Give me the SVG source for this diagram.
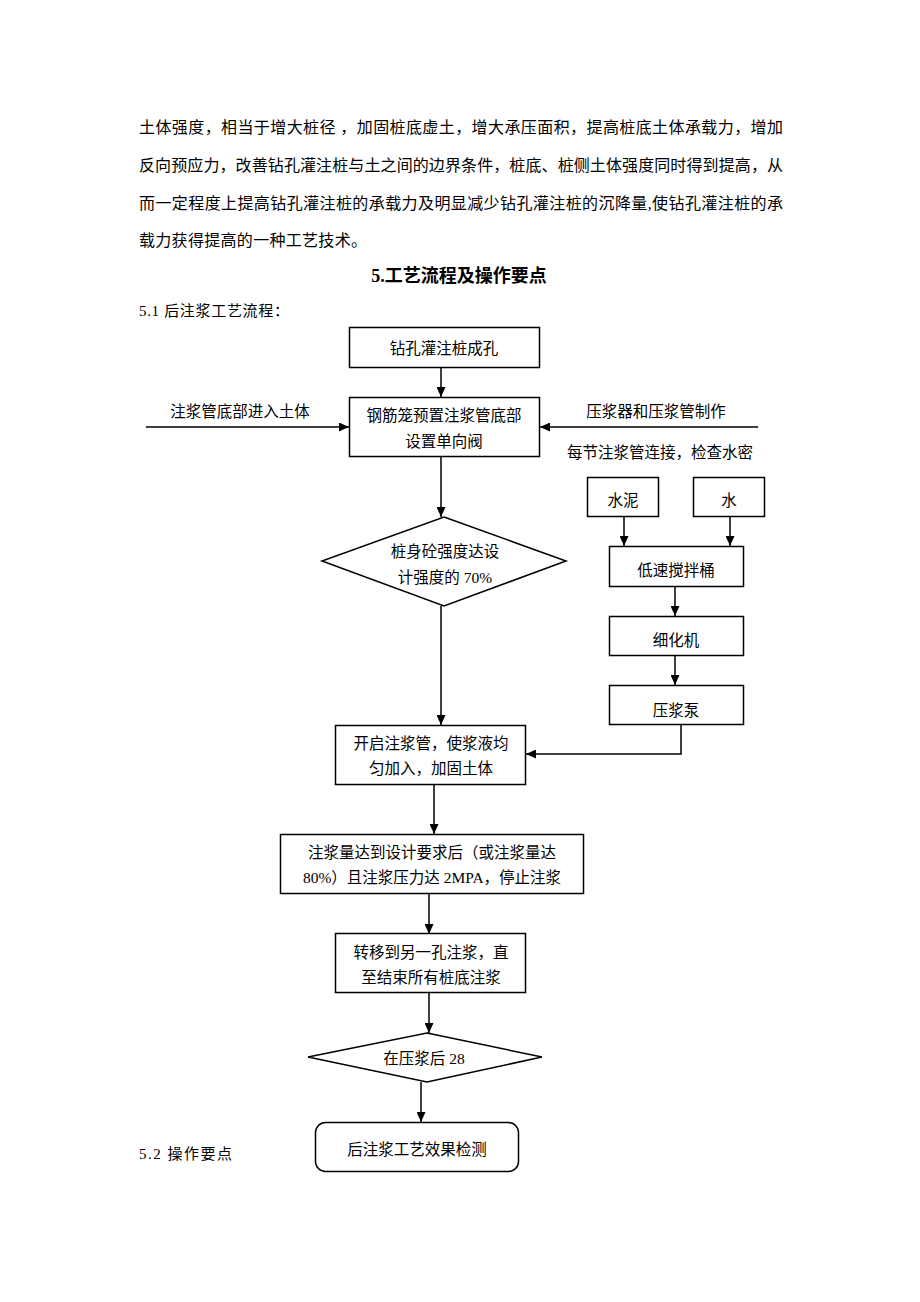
<svg xmlns="http://www.w3.org/2000/svg" width="920" height="1302" viewBox="0 0 920 1302">
<style>
text{font-family:"Liberation Serif","Noto Sans CJK SC",serif;fill:#000;dominant-baseline:central}
.body{font-size:16px}
.lbl{font-size:15.5px}
.c{text-anchor:middle}
.box{fill:#fff;stroke:#000;stroke-width:1.5}
.con{fill:none;stroke:#000;stroke-width:1.5;marker-end:url(#ah)}
</style>
<defs>
<marker id="ah" markerUnits="userSpaceOnUse" markerWidth="10" markerHeight="9" refX="10" refY="4.5" orient="auto">
<path d="M0,0 L10,4.5 L0,9 z" fill="#000"/>
</marker>
</defs>
<rect width="920" height="1302" fill="#fff"/>
<g id="paragraph">
<text class="body" x="139" y="127" textLength="644" lengthAdjust="spacing">土体强度，相当于增大桩径 ，加固桩底虚土，增大承压面积，提高桩底土体承载力，增加</text>
<text class="body" x="139" y="165" textLength="644" lengthAdjust="spacing">反向预应力，改善钻孔灌注桩与土之间的边界条件，桩底、桩侧土体强度同时得到提高，从</text>
<text class="body" x="139" y="203" textLength="644" lengthAdjust="spacing">而一定程度上提高钻孔灌注桩的承载力及明显减少钻孔灌注桩的沉降量,使钻孔灌注桩的承</text>
<text class="body" x="139" y="240" textLength="228" lengthAdjust="spacing">载力获得提高的一种工艺技术。</text>
</g>
<g id="heading">
<text x="459" y="276" class="c" style="font-size:18px;font-weight:bold">5.工艺流程及操作要点</text>
<text x="139" y="311" style="font-size:15px" textLength="150" lengthAdjust="spacing">5.1 后注浆工艺流程：</text>
<text x="139" y="1154" style="font-size:15px" textLength="93" lengthAdjust="spacing">5.2 操作要点</text>
</g>
<g id="connectors">
<path class="con" d="M441,368 V397"/>
<path class="con" d="M146,427 H349"/>
<path class="con" d="M758,427 H540"/>
<path class="con" d="M441,457 V517"/>
<path class="con" d="M441,606 V725"/>
<path class="con" d="M624,517 V546"/>
<path class="con" d="M730,517 V546"/>
<path class="con" d="M675,586 V616"/>
<path class="con" d="M675,656 V685"/>
<path class="con" d="M681,725 V754 H526"/>
<path class="con" d="M434,785 V834"/>
<path class="con" d="M429,894 V934"/>
<path class="con" d="M429,993 V1033"/>
<path class="con" d="M421,1082 V1122"/>
</g>
<g id="labels">
<text class="lbl" x="240" y="411" text-anchor="middle">注浆管底部进入土体</text>
<text class="lbl" x="656" y="411" text-anchor="middle">压浆器和压浆管制作</text>
<text class="lbl" x="660" y="452" text-anchor="middle">每节注浆管连接，检查水密</text>
</g>
<g id="n1">
<rect class="box" x="349.5" y="327.5" width="190" height="40"/>
<text class="lbl c" x="444" y="348">钻孔灌注桩成孔</text>
</g>
<g id="n2">
<rect class="box" x="349.5" y="397.5" width="190" height="59"/>
<text class="lbl c" x="444" y="415">钢筋笼预置注浆管底部</text>
<text class="lbl c" x="444" y="441">设置单向阀</text>
</g>
<g id="n3">
<polygon class="box" points="444,517 566,561 444,606 322,561"/>
<text class="lbl c" x="445" y="551">桩身砼强度达设</text>
<text class="lbl c" x="445" y="577">计强度的 70%</text>
</g>
<g id="n4">
<rect class="box" x="587.5" y="477.5" width="71" height="39"/>
<text class="lbl c" x="623" y="500">水泥</text>
</g>
<g id="n5">
<rect class="box" x="693.5" y="477.5" width="71" height="39"/>
<text class="lbl c" x="729" y="500">水</text>
</g>
<g id="n6">
<rect class="box" x="609.5" y="546.5" width="134" height="40"/>
<text class="lbl c" x="676" y="570">低速搅拌桶</text>
</g>
<g id="n7">
<rect class="box" x="609.5" y="616.5" width="134" height="39"/>
<text class="lbl c" x="676" y="640">细化机</text>
</g>
<g id="n8">
<rect class="box" x="609.5" y="685.5" width="134" height="39"/>
<text class="lbl c" x="676" y="710">压浆泵</text>
</g>
<g id="n9">
<rect class="box" x="335.5" y="725.5" width="190" height="59"/>
<text class="lbl c" x="431" y="743">开启注浆管，使浆液均</text>
<text class="lbl c" x="431" y="768">匀加入，加固土体</text>
</g>
<g id="n10">
<rect class="box" x="280.5" y="834.5" width="303" height="59"/>
<text class="lbl c" x="432" y="852">注浆量达到设计要求后（或注浆量达</text>
<text class="lbl c" x="432" y="877">80%）且注浆压力达 2MPA，停止注浆</text>
</g>
<g id="n11">
<rect class="box" x="335.5" y="933.5" width="190" height="59"/>
<text class="lbl c" x="431" y="952">转移到另一孔注浆，直</text>
<text class="lbl c" x="431" y="977">至结束所有桩底注浆</text>
</g>
<g id="n12">
<polygon class="box" points="427,1033 542,1057 427,1082 308,1057"/>
<text class="lbl c" x="424" y="1058">在压浆后 28</text>
</g>
<g id="n13">
<rect class="box" x="315.5" y="1122.5" width="203" height="49" rx="10" ry="10"/>
<text class="lbl c" x="417" y="1149">后注浆工艺效果检测</text>
</g>
</svg>
